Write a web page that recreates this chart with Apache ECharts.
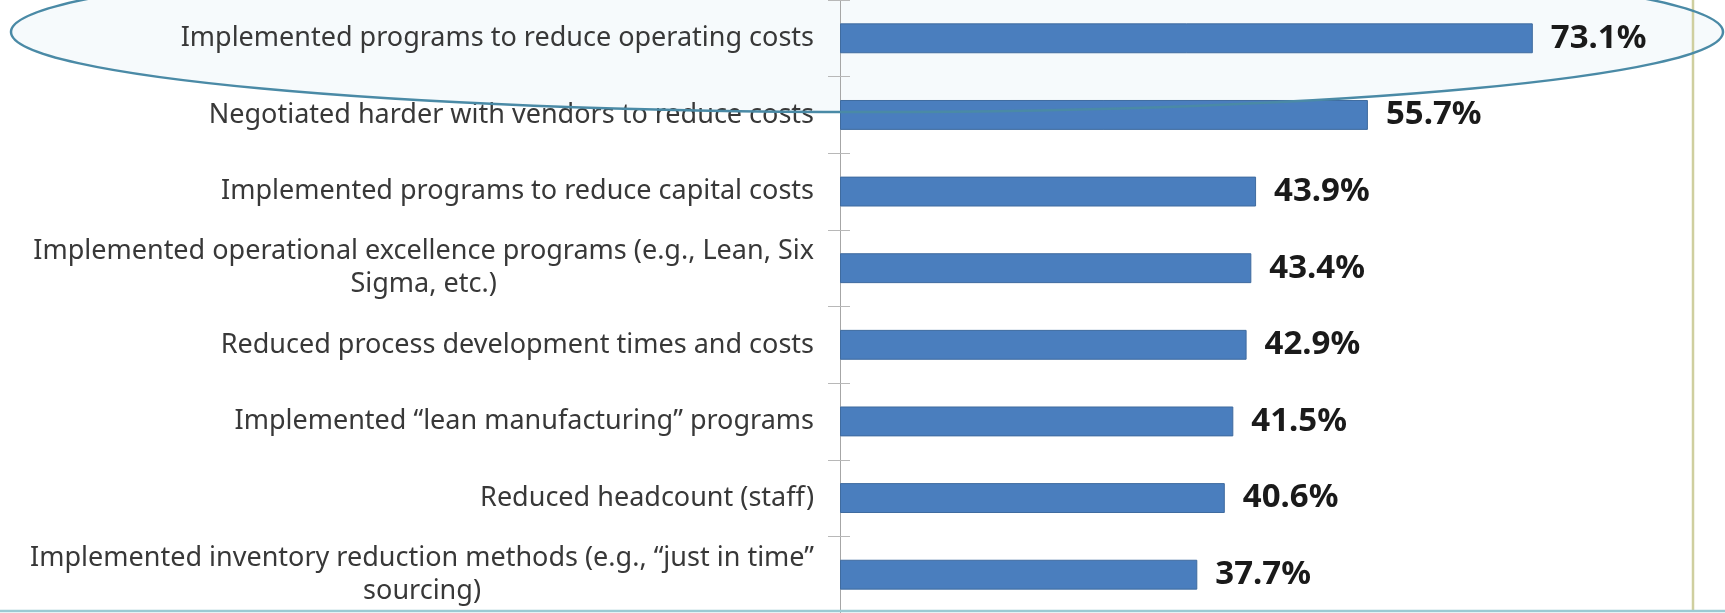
<!DOCTYPE html>
<html>
<head>
<meta charset="utf-8">
<script src="https://cdn.jsdelivr.net/npm/echarts@6/dist/echarts.min.js"></script>
<style>
html,body{margin:0;padding:0;background:#fff;}
#chart{width:1725px;height:613px;}
</style>
</head>
<body>
<div id="chart"></div>
<script>
const categories = [
  "Implemented programs to reduce operating costs",
  "Negotiated harder with vendors to reduce costs",
  "Implemented programs to reduce capital costs",
  "Implemented operational excellence programs (e.g., Lean, Six\nSigma, etc.)",
  "Reduced process development times and costs",
  "Implemented \u201clean manufacturing\u201d programs",
  "Reduced headcount (staff)",
  "Implemented inventory reduction methods (e.g., \u201cjust in time\u201d\nsourcing)"
];
const values = [73.1, 55.7, 43.9, 43.4, 42.9, 41.5, 40.6, 37.7];

const chart = echarts.init(document.getElementById('chart'));
const option = {
  backgroundColor: '#ffffff',
  animation: false,
  grid: { left: 840, right: 32, top: -2, bottom: -3, containLabel: false },
  xAxis: {
    type: 'value', min: 0, max: 90,
    show: false
  },
  yAxis: [{
    type: 'category',
    data: categories,
    inverse: true,
    axisLine: { show: true, lineStyle: { color: '#a6a6a6', width: 1 } },
    axisTick: { show: true, length: 12, lineStyle: { color: '#b8b8b8' } },
    axisLabel: {
      margin: 26,
      color: '#383838',
      fontFamily: 'Noto Sans',
      fontSize: 27,
      lineHeight: 33,
      formatter: function (v) {
        return v.split('\n').map(function (s) { return '{c|' + s + '}'; }).join('\n');
      },
      rich: { c: { align: 'center', fontFamily: 'Noto Sans', fontSize: 27, color: '#383838', lineHeight: 33 } }
    }
  }, {
    type: 'category',
    data: categories,
    inverse: true,
    position: 'left',
    axisLine: { show: false },
    axisTick: { show: true, inside: true, length: 10, lineStyle: { color: '#b8b8b8' } },
    axisLabel: { show: false }
  }],
  series: [{
    type: 'bar',
    data: values,
    barCategoryGap: '61%',
    itemStyle: { color: '#4a7ebe', borderColor: '#3f6b9f', borderWidth: 1 },
    label: {
      show: true,
      position: 'right',
      distance: 18,
      formatter: function (p) { return p.value.toFixed(1) + '%'; },
      fontFamily: 'Noto Sans',
      fontWeight: 'bold',
      fontSize: 33,
      color: '#1a1a1a'
    }
  }],
  graphic: [
    { type: 'ellipse', shape: { cx: 867, cy: 32, rx: 856, ry: 80 }, z: -10,
      style: { fill: 'rgba(214,234,242,0.22)', stroke: 'none' } },
    { type: 'ellipse', shape: { cx: 867, cy: 32, rx: 856, ry: 80 }, z: 100,
      style: { fill: 'none', stroke: '#4a8aa6', lineWidth: 2.5 } },
    { type: 'line', shape: { x1: 1693, y1: 0, x2: 1693, y2: 611 }, z: 50,
      style: { stroke: '#cfcf9f', lineWidth: 2.5 } },
    { type: 'line', shape: { x1: 0, y1: 611, x2: 1725, y2: 611 }, z: 50,
      style: { stroke: '#9ccad3', lineWidth: 2.5 } }
  ]
};
chart.setOption(option);
</script>
</body>
</html>
